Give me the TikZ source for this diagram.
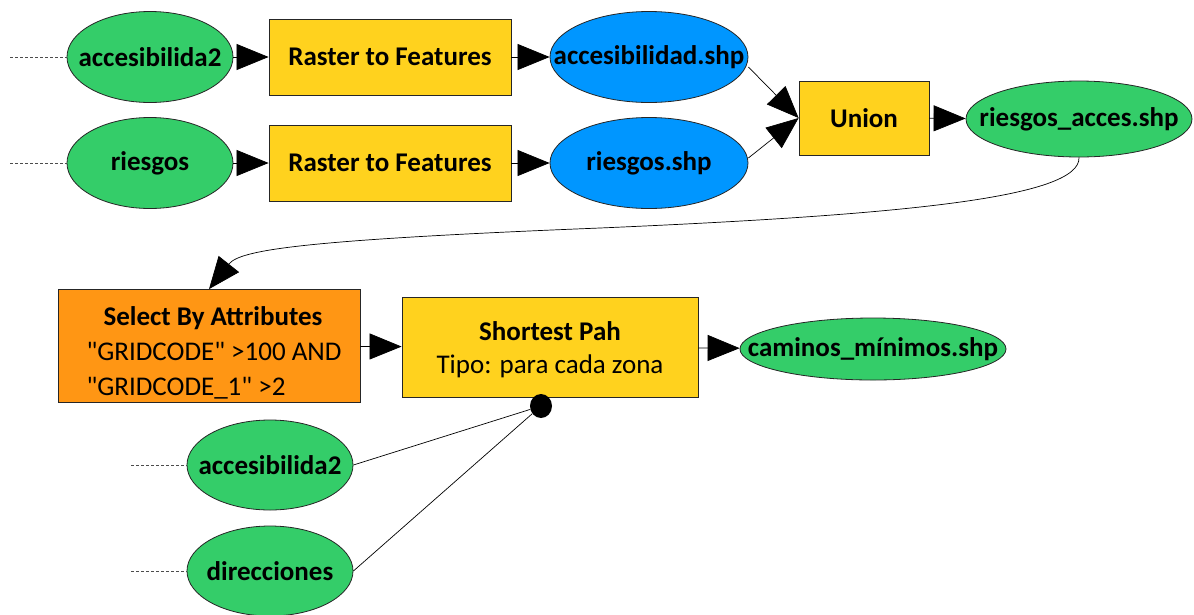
\documentclass[tikz,border=0pt]{standalone}
\usepackage{fontspec}
\setmainfont{Carlito}[Ligatures=TeXOff]
\usetikzlibrary{arrows.meta,shapes.geometric}
\definecolor{cgreen}{RGB}{52,205,105}
\definecolor{cblue}{RGB}{0,150,255}
\definecolor{cyellow}{RGB}{255,210,30}
\definecolor{corange}{RGB}{255,150,20}
\newcommand{\zb}[1]{\makebox[0pt]{#1}}
\tikzset{
  base/.style={draw=black!85, line width=0.8pt, inner sep=0pt, font=\fontsize{27}{32}\selectfont\bfseries},
  greenell/.style={base, ellipse, fill=cgreen, minimum width=166pt, minimum height=91pt},
  blueell/.style={base, ellipse, fill=cblue, minimum width=198pt, minimum height=91pt},
  toolbox/.style={base, rectangle, fill=cyellow},
  flow/.style={line width=0.7pt, -{Triangle[length=32pt, width=26pt]}},
  feed/.style={line width=0.7pt},
  stub/.style={line width=0.7pt, dashed, dash pattern=on 3pt off 2pt, draw=black!70},
}
\begin{document}
\begin{tikzpicture}[x=1pt, y=-1pt]
\useasboundingbox (0,0) rectangle (1194,614);
% top row
\node[greenell] (acc2) at (150,57) {\zb{accesibilida2}};
\node[toolbox, minimum width=242pt, minimum height=76pt] (rtf1) at (390,57) {Raster to Features};
\node[blueell] (accshp) at (649,57) {\zb{accesibilidad.shp}};
\node[greenell] (ries) at (150,163) {\zb{riesgos}};
\node[toolbox, minimum width=242pt, minimum height=76pt] (rtf2) at (390,163) {Raster to Features};
\node[blueell] (riesshp) at (649,163) {\zb{riesgos.shp}};
\node[toolbox, minimum width=130pt, minimum height=74pt] (union) at (864,118) {Union};
\node[greenell, minimum width=226pt, minimum height=76pt] (ra) at (1079,119) {\zb{riesgos\_acces.shp}};
% middle row
\node[base, rectangle, fill=corange, minimum width=302pt, minimum height=113pt, align=left, font=\fontsize{27}{35}\selectfont] (sel) at (209,346)
  {\rule{0pt}{33pt}\hspace*{27pt}\textbf{Select By Attributes}\\\hspace*{10pt}"GRIDCODE" >100 AND\\\hspace*{10pt}"GRIDCODE\_1" >2};
\node[toolbox, minimum width=296pt, minimum height=100pt, align=center, font=\fontsize{27}{33}\selectfont] (sp) at (550,347)
  {\rule{0pt}{24pt}\textbf{Shortest Pah}\\Tipo: para cada zona};
\node[greenell, minimum width=266pt, minimum height=62pt] (cam) at (873,349) {\zb{caminos\_mínimos.shp}};
% bottom row
\node[greenell, minimum height=90pt] (acc2b) at (270,465) {\zb{accesibilida2}};
\node[greenell, minimum height=90pt] (dir) at (270,571) {\zb{direcciones}};
\node[ellipse, fill=black, minimum width=22pt, minimum height=24pt, inner sep=0pt] (dot) at (541,406) {};
% dashed stubs
\coordinate (s1) at (10,57);
\coordinate (s2) at (10,163);
\coordinate (s3) at (131,465);
\coordinate (s4) at (131,571);
\draw[stub] (s1) -- (acc2.west);
\draw[stub] (s2) -- (ries.west);
\draw[stub] (s3) -- (acc2b.west);
\draw[stub] (s4) -- (dir.west);
% flows
\draw[flow] (acc2) -- (rtf1);
\draw[flow] (rtf1) -- (accshp);
\draw[flow] (ries) -- (rtf2);
\draw[flow] (rtf2) -- (riesshp);
\draw[flow] (accshp.east) ++(0,10) coordinate (a1) (a1) -- (union.west);
\draw[flow] (riesshp.east) ++(0,-5) coordinate (a2) (a2) -- (union.west);
\draw[flow] (union) -- (ra);
\draw[flow] (ra.south) .. controls (1081,198) and (900,215) .. (600,228)
  .. controls (300,240) and (240,250) .. (sel.north);
\draw[flow] (sel) -- (sp);
\draw[flow] (sp) -- (cam);
\draw[feed] (acc2b.east) -- (dot);
\draw[feed] (dir.east) -- (dot);
\end{tikzpicture}
\end{document}
